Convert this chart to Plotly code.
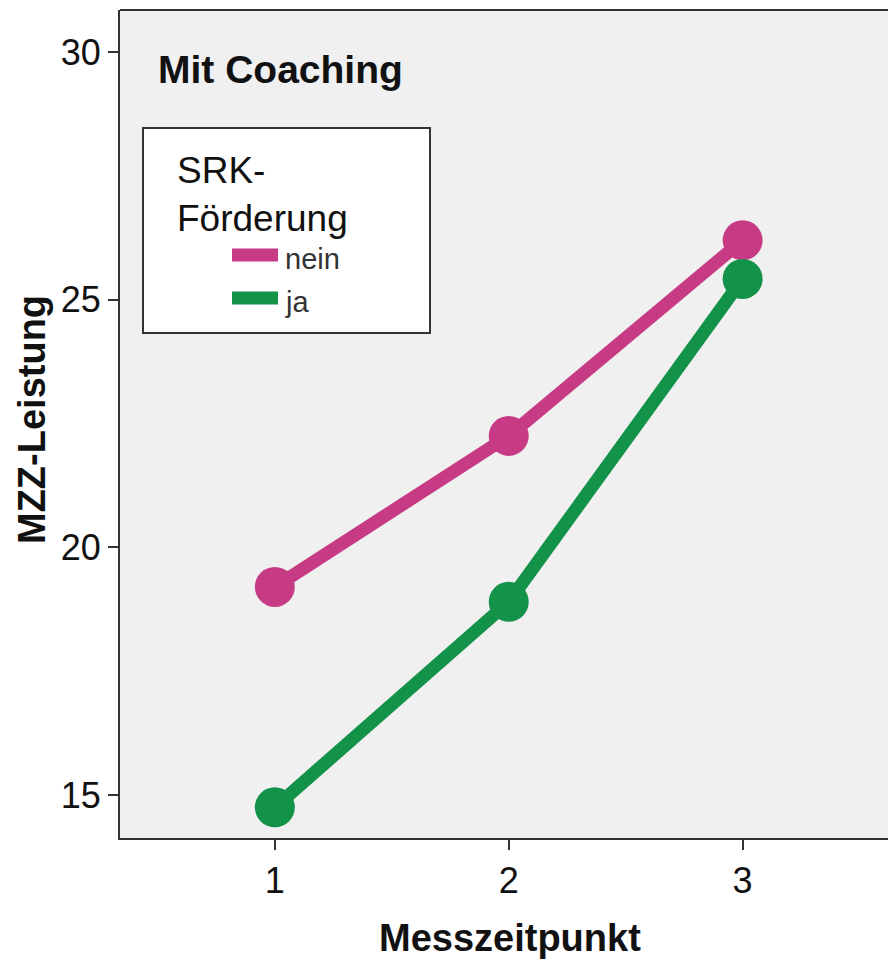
import plotly.graph_objects as go

# Messzeitpunkt and group means
messzeitpunkt = [1, 2, 3]
nein_werte = [19.2, 22.25, 26.2]
ja_werte = [14.75, 18.9, 25.42]
gruppen = ["nein", "ja"]
farben = ["#C73B84", "#13924A"]
y_ticks = [15, 20, 25, 30]

OFF = 8  # page body margin
W, H = 896, 963 - OFF
L, R, T, B = 112, 0, 2, H - 830
FONT = "Liberation Sans, Arial, sans-serif"


def px(x):
    # screenshot pixel -> paper x
    return (x - OFF - L) / (W - L - R)


def py(y):
    return (H - B - (y - OFF)) / (H - T - B)


fig = go.Figure()
for name, vals, col in zip(gruppen, [nein_werte, ja_werte], farben):
    fig.add_trace(go.Scatter(
        x=messzeitpunkt, y=vals, name=name, mode='lines+markers',
        line=dict(color=col, width=13),
        marker=dict(color=col, size=40),
        showlegend=False,
    ))

shapes = [
    # legend box
    dict(type='rect', xref='paper', yref='paper',
         x0=px(143), x1=px(430), y0=py(333), y1=py(128),
         fillcolor='white', line=dict(color='#333', width=2), layer='below'),
]
annotations = [
    dict(text="<b>Mit Coaching</b>", xref='paper', yref='paper',
         x=px(156), y=py(70), xanchor='left', yanchor='middle', showarrow=False,
         font=dict(size=39, color='#111', family=FONT)),
    dict(text="SRK-<br>Förderung", xref='paper', yref='paper',
         x=px(175), y=py(194), xanchor='left', yanchor='middle', showarrow=False,
         align='left', font=dict(size=37, color='#111', family=FONT)),
    dict(text="<b>MZZ-Leistung</b>", xref='paper', yref='paper',
         x=px(32), y=py(420), xanchor='center', yanchor='middle', showarrow=False,
         textangle=-90, font=dict(size=38, color='#111', family=FONT)),
    dict(text="<b>Messzeitpunkt</b>", xref='paper', yref='paper',
         x=px(510), y=py(938), xanchor='center', yanchor='middle', showarrow=False,
         font=dict(size=38, color='#111', family=FONT)),
]
for i, (name, col) in enumerate(zip(gruppen, farben)):
    yy = 255 + i * 43
    shapes.append(dict(type='line', xref='paper', yref='paper',
                       x0=px(232), x1=px(278), y0=py(yy), y1=py(yy),
                       line=dict(color=col, width=13)))
    annotations.append(dict(text=name, xref='paper', yref='paper',
                            x=px(283), y=py(yy + 4), xanchor='left', yanchor='middle',
                            showarrow=False, font=dict(size=29, color='#333', family=FONT)))
# top border of the plot frame
shapes.append(dict(type='line', xref='paper', yref='paper', x0=0, x1=1.01, y0=1, y1=1,
                   line=dict(color='#333', width=2)))

fig.update_layout(
    width=W, height=H,
    margin=dict(l=L, r=R, t=T, b=B),
    paper_bgcolor='white', plot_bgcolor='#F0F0F0',
    font=dict(family=FONT, size=36, color='#111'),
    xaxis=dict(range=[0.338, 3.69], tickvals=messzeitpunkt, ticks='outside', ticklen=10,
               tickwidth=2, tickcolor='#333', showline=True, linecolor='#333', linewidth=2,
               showgrid=False, zeroline=False, tickfont=dict(size=36)),
    yaxis=dict(range=[14.13, 30.85], tickvals=y_ticks, ticks='outside', ticklen=10,
               tickwidth=2, tickcolor='#333', showline=True, linecolor='#333', linewidth=2,
               showgrid=False, zeroline=False, tickfont=dict(size=36)),
    shapes=shapes, annotations=annotations,
)

fig.write_html("out.html")
